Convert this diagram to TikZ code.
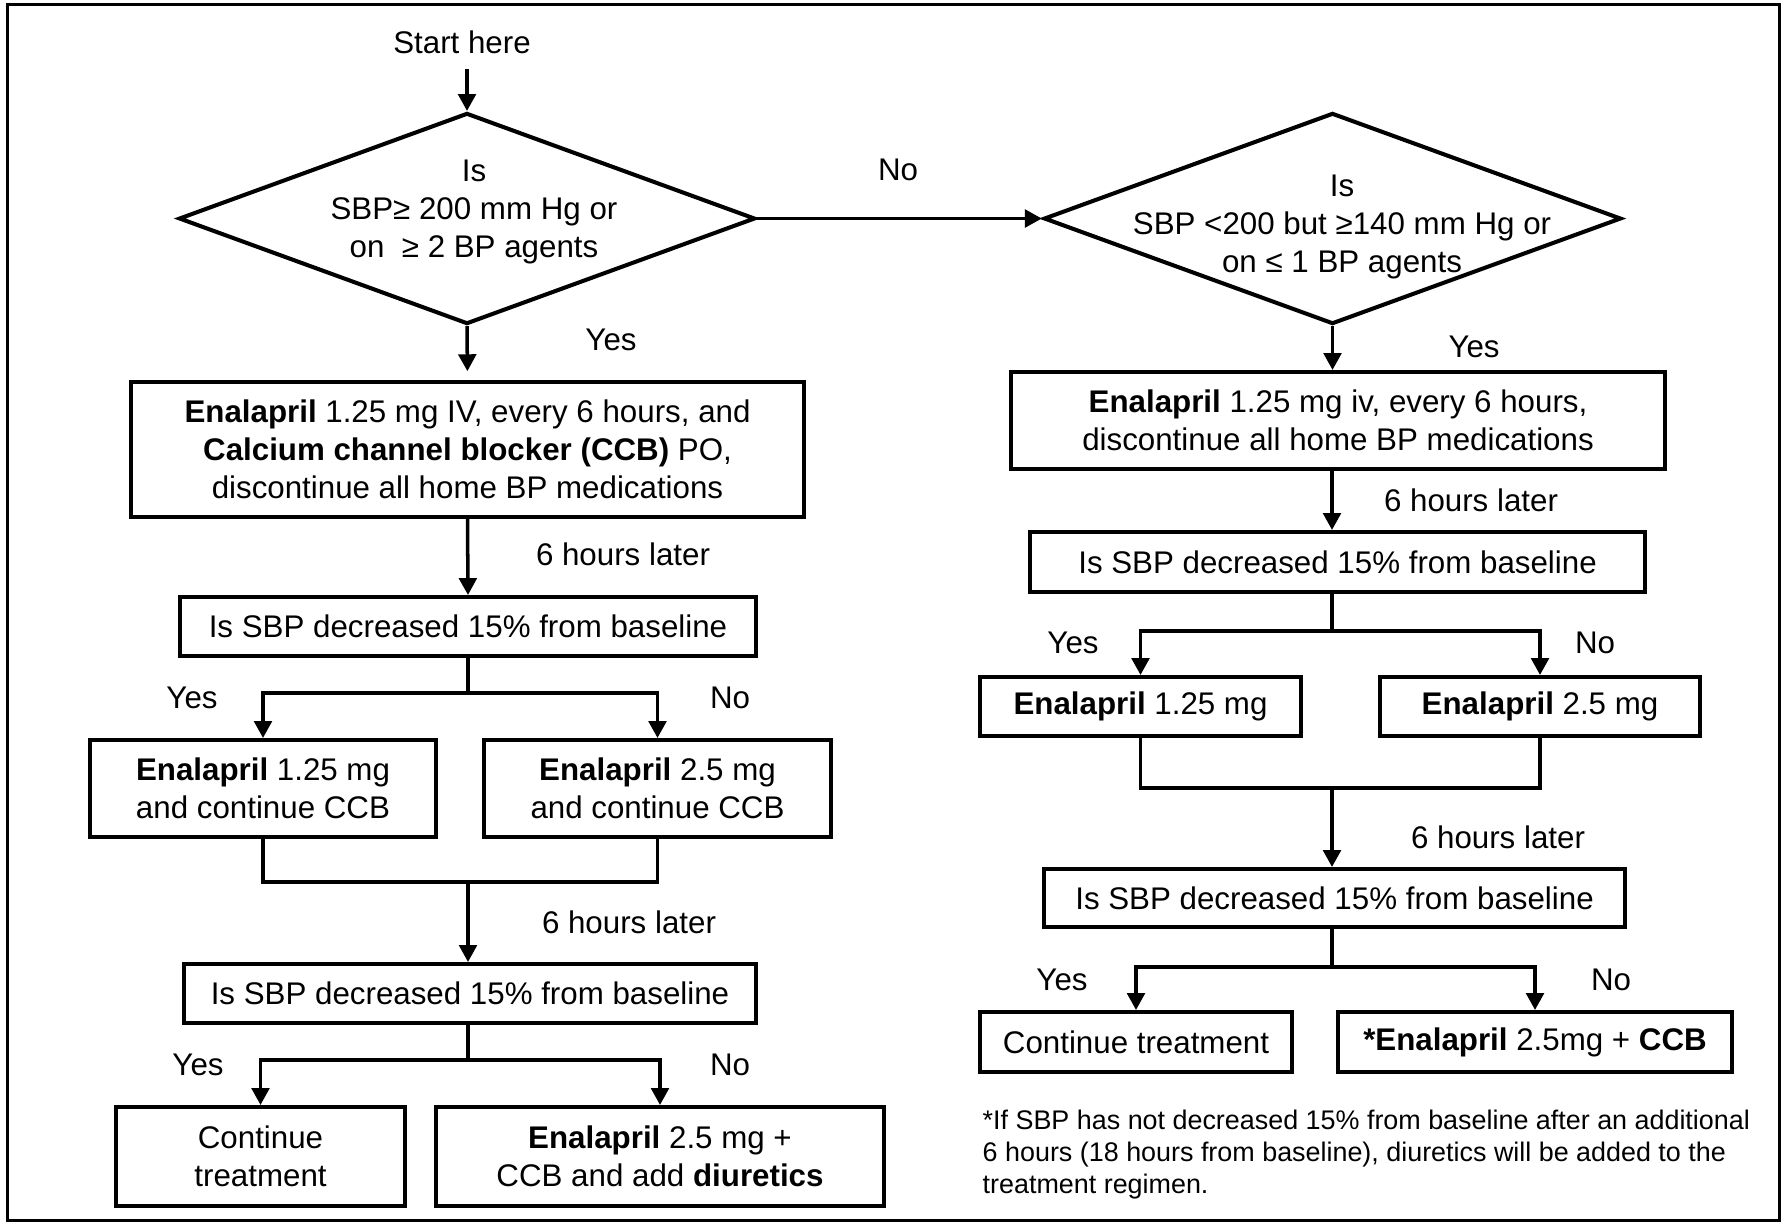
\documentclass[tikz,border=0pt]{standalone}
\usepackage{fontspec}
\setmainfont{Liberation Sans}
\usetikzlibrary{shapes.geometric,arrows.meta,calc}
\begin{document}
\begin{tikzpicture}[x=0.01cm,y=-0.01cm,
  every node/.style={font=\fontsize{8.9}{10.8}\selectfont},
  box/.style={draw,line width=1.15pt,rectangle,inner sep=0pt,align=center},
  dia/.style={draw,line width=1.15pt,diamond,inner sep=0pt},
  lbl/.style={inner sep=0pt,align=center},
  conn/.style={line width=1pt},
  arr/.style={conn,-{Triangle[length=4.8pt,width=5pt]}},
  note/.style={inner sep=0pt,align=left,font=\fontsize{7.65}{9.1}\selectfont},
]
\useasboundingbox (0,0) rectangle (1783,1223);
\node[draw,line width=0.9pt,inner sep=0pt,minimum width=17.71cm,minimum height=12.15cm] (frame) at (893.5,612.5) {};

% top
\node[lbl] (start) at (462,42) {Start here};
\node[dia,minimum width=5.76cm,minimum height=2.11cm] (d1) at (467,218.5) {};
\node[lbl] (d1t) at (474,212) {Is\\SBP≥ 200 mm Hg or\\on\ \ ≥ 2 BP agents};
\node[dia,minimum width=5.77cm,minimum height=2.11cm] (d2) at (1332.5,218.5) {};
\node[lbl] (d2t) at (1342,227) {Is\\SBP <200 but ≥140 mm Hg or\\on ≤ 1 BP agents};

% left column
\node[box,minimum width=6.73cm,minimum height=1.35cm] (L1) at (467.5,449.5)
  {\textbf{Enalapril} 1.25 mg IV, every 6 hours, and\\\textbf{Calcium channel blocker (CCB)} PO,\\discontinue all home BP medications};
\node[box,minimum width=5.76cm,minimum height=0.59cm] (L2) at (468,626.5) {Is SBP decreased 15\% from baseline};
\node[box,minimum width=3.46cm,minimum height=0.97cm] (L3a) at (263,788.5) {\textbf{Enalapril} 1.25 mg\\and continue CCB};
\node[box,minimum width=3.47cm,minimum height=0.97cm] (L3b) at (657.5,788.5) {\textbf{Enalapril} 2.5 mg\\and continue CCB};
\node[box,minimum width=5.72cm,minimum height=0.59cm] (L4) at (470,993.5) {Is SBP decreased 15\% from baseline};
\node[box,minimum width=2.89cm,minimum height=0.99cm] (L5a) at (260.5,1156.5) {Continue\\treatment};
\node[box,minimum width=4.48cm,minimum height=0.99cm] (L5b) at (660,1156.5) {\textbf{Enalapril} 2.5 mg +\\CCB and add \textbf{diuretics}};

% right column
\node[box,minimum width=6.54cm,minimum height=0.97cm] (R1) at (1338,420.5)
  {\textbf{Enalapril} 1.25 mg iv, every 6 hours,\\discontinue all home BP medications};
\node[box,minimum width=6.15cm,minimum height=0.60cm] (R2) at (1337.5,562) {Is SBP decreased 15\% from baseline};
\node[box,minimum width=3.21cm,minimum height=0.59cm] (R3a) at (1140.5,706.5) {\textbf{Enalapril} 1.25 mg};
\node[box,minimum width=3.20cm,minimum height=0.59cm] (R3b) at (1540,706.5) {\textbf{Enalapril} 2.5 mg};
\node[box,minimum width=5.81cm,minimum height=0.58cm] (R4) at (1334.5,898) {Is SBP decreased 15\% from baseline};
\node[box,minimum width=3.12cm,minimum height=0.60cm] (R5a) at (1136,1042) {Continue treatment};
\node[box,minimum width=3.94cm,minimum height=0.60cm] (R5b) at (1535,1042) {\textbf{*Enalapril} 2.5mg + \textbf{CCB}};

\node[note,anchor=north west] (fn) at (982,1109)
  {*If SBP has not decreased 15\% from baseline after an additional\\6 hours (18 hours from baseline), diuretics will be added to the\\treatment regimen.};

% junction coordinates
\coordinate (j1) at (468,693);
\coordinate (m1) at (468,882);
\coordinate (j2) at (468,1060);
\coordinate (j3) at (1332,631);
\coordinate (m2) at (1332,788);
\coordinate (j4) at (1332,967);

% top connectors
\draw[arr] ($(start.south -| d1.north)+(0,15)$) -- (d1.north);
\draw[arr] (d1.east) -- (d2.west);
\node[lbl] (no0) at (898,170) {No};
\draw[arr,shorten >=2.5pt] (d1.south) -- (L1.north);
\node[lbl] (yes0) at (611,340) {Yes};
\draw[arr] (d2.south) -- (d2.south |- R1.north);
\node[lbl] (yes0r) at (1474,347) {Yes};

% left connectors
\draw[arr] (L1.south) -- (L2.north);
\node[lbl] (h1) at (623,554) {6 hours later};
\draw[conn] (L2.south) -- (j1);
\draw[arr] (j1) -| (L3a.north);
\draw[arr] (j1) -| (L3b.north);
\node[lbl] (yes1) at (192,698) {Yes};
\node[lbl] (no1) at (730,698) {No};
\draw[conn] (L3a.south) |- (m1) -| (L3b.south);
\draw[arr] (m1) -- (m1 |- L4.north);
\node[lbl] (h2) at (629,922) {6 hours later};
\draw[conn] (j2 |- L4.south) -- (j2);
\draw[arr] (j2) -| (L5a.north);
\draw[arr] (j2) -| (L5b.north);
\node[lbl] (yes2) at (198,1065) {Yes};
\node[lbl] (no2) at (730,1065) {No};

% right connectors
\draw[arr] (j3 |- R1.south) -- (j3 |- R2.north);
\node[lbl] (h3) at (1471,500) {6 hours later};
\draw[conn] (j3 |- R2.south) -- (j3);
\draw[arr] (j3) -| (R3a.north);
\draw[arr] (j3) -| (R3b.north);
\node[lbl] (yes3) at (1073,643) {Yes};
\node[lbl] (no3) at (1595,643) {No};
\draw[conn] (R3a.south) |- (m2) -| (R3b.south);
\draw[arr] (m2) -- (m2 |- R4.north);
\node[lbl] (h4) at (1498,837) {6 hours later};
\draw[conn] (j4 |- R4.south) -- (j4);
\draw[arr] (j4) -| (R5a.north);
\draw[arr] (j4) -| (R5b.north);
\node[lbl] (yes4) at (1062,980) {Yes};
\node[lbl] (no4) at (1611,980) {No};
\end{tikzpicture}
\end{document}
